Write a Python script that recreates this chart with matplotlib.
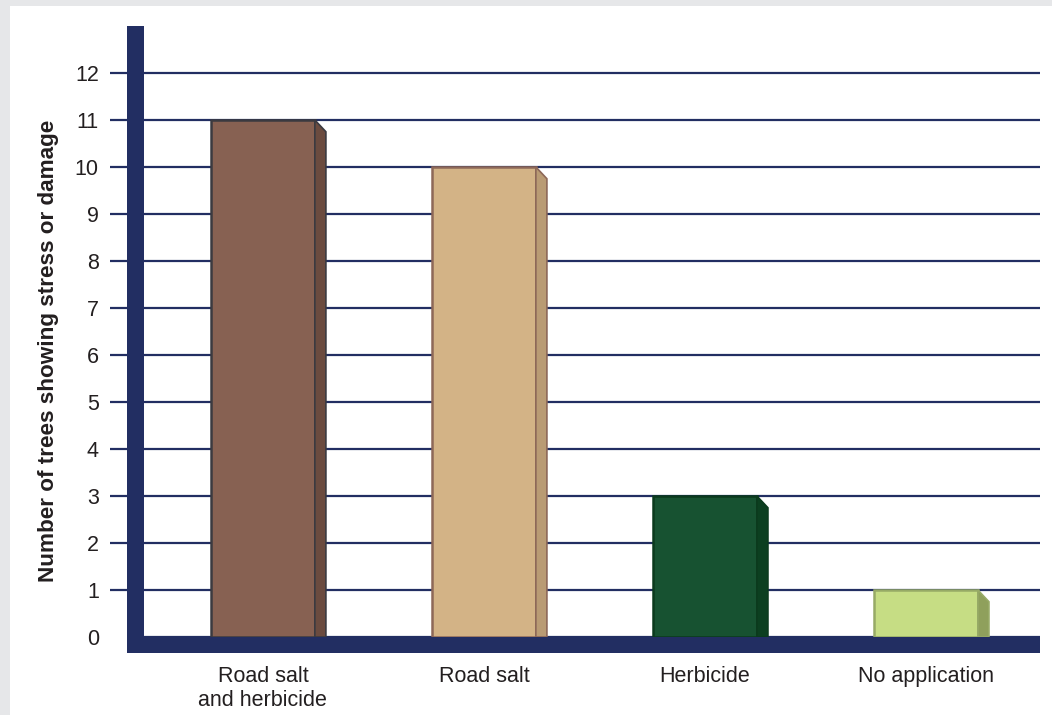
import matplotlib.pyplot as plt
from matplotlib.patches import Rectangle, Polygon

categories = ['Road salt\nand herbicide', 'Road salt', 'Herbicide', 'No application']
values = [11, 10, 3, 1]
face_colors = ['#876152', '#d3b386', '#175231', '#c6dd84']
side_colors = ['#6b4b3f', '#b99b74', '#0c3f20', '#8fa05c']
edge_colors = ['#3b3a40', '#8d6858', '#0b3a1d', '#97aa66']
yticks = list(range(0, 13))

navy = '#222e62'
txt = '#231f20'
plt.rcParams['font.family'] = ['Liberation Sans', 'DejaVu Sans']

W, H = 1052, 715
fig = plt.figure(figsize=(W / 100, H / 100), dpi=100, facecolor='#e6e7e9')
# white panel
fig.patches.append(Rectangle((10 / W, 0), 1042 / W, 709 / H, transform=fig.transFigure,
                             facecolor='white', edgecolor='none', zorder=-10))

ax = fig.add_axes([144 / W, (H - 637) / H, 896 / W, 611 / H])
ax.set_facecolor('none')
ax.set_xlim(-0.538, 3.516)
ax.set_ylim(0, 13)

# gridlines
ax.set_yticks(yticks)
ax.yaxis.grid(True, color=navy, lw=1.6, zorder=1)
ax.set_axisbelow(True)
for s in ax.spines.values():
    s.set_visible(False)
ax.tick_params(axis='y', length=24.5, width=1.6, color=navy, pad=8,
               labelsize=15.5, labelcolor=txt)
ax.yaxis.get_major_ticks()[0].tick1line.set_visible(False)

pos = list(range(len(categories)))
bw = 0.47
dx, dy = 0.05, 0.25
ax.bar(pos, values, width=bw, color=face_colors, edgecolor=edge_colors, lw=1.8, zorder=3)
for x, v, sc, ec in zip(pos, values, side_colors, edge_colors):
    xr = x + bw / 2
    ax.add_patch(Polygon([(xr, 0), (xr, v), (xr + dx, v - dy), (xr + dx, 0)],
                         closed=True, facecolor=sc, edgecolor=ec, lw=1.2, zorder=3))

ax.set_xticks(pos)
ax.set_xticklabels(categories)
ax.tick_params(axis='x', length=0, pad=21, labelsize=15.5, labelcolor=txt)

# thick axis bars
ax.add_patch(Rectangle((-17 / 896, -16 / 611), 17 / 896, 1 + 16 / 611, transform=ax.transAxes,
                       facecolor=navy, edgecolor='none', clip_on=False, zorder=5))
ax.add_patch(Rectangle((-17 / 896, -16 / 611), 1 + 17 / 896, 16 / 611, transform=ax.transAxes,
                       facecolor=navy, edgecolor='none', clip_on=False, zorder=5))

fig.text(49 / W, (H - 351) / H, 'Number of trees showing stress or damage', rotation=90,
         ha='center', va='center', fontsize=16.2, fontweight='bold', color=txt)

fig.savefig('out.png', dpi=100, facecolor=fig.get_facecolor())
